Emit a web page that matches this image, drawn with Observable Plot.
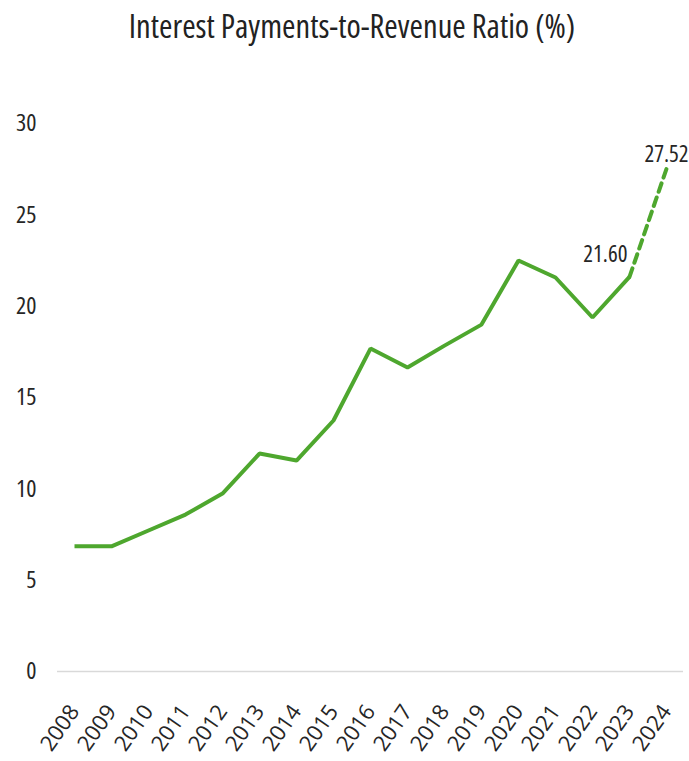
<!DOCTYPE html>
<html>
<head>
<meta charset="utf-8">
<script src="https://cdn.jsdelivr.net/npm/d3@7"></script>
<script src="https://cdn.jsdelivr.net/npm/@observablehq/plot@0.6"></script>
<style>
  body { margin: 0; background: #fff; }
  #title { height: 60px; text-align: center; font-family: "Open Sans", sans-serif; font-stretch: 75%; font-weight: 400; font-size: 32.5px; color: #222; line-height: 50px; padding-top: 1px; padding-left: 15px; box-sizing: border-box; }
  #chart svg { display: block; }
  #chart svg text { font-stretch: 75%; font-weight: 400; }
  #chart svg g[aria-label="x-axis tick label"] text { font-stretch: 90%; }
</style>
</head>
<body>
<div id="title">Interest Payments-to-Revenue Ratio (%)</div>
<div id="chart"></div>
<script>
const years = ["2008","2009","2010","2011","2012","2013","2014","2015","2016","2017","2018","2019","2020","2021","2022","2023","2024"];
const ratios = [6.85, 6.85, 7.72, 8.59, 9.74, 11.93, 11.55, 13.74, 17.68, 16.64, 17.84, 18.99, 22.5, 21.57, 19.38, 21.60, 27.52];
const yTicks = [0, 5, 10, 15, 20, 25, 30];
const labelYears = ["2023", "2024"];

const data = years.map((y, i) => ({year: y, value: ratios[i]}));
const solid = data.filter(d => +d.year <= 2023);
const dashed = data.filter(d => +d.year >= 2023);
const lab23 = data.filter(d => d.year === labelYears[0]);
const lab24 = data.filter(d => d.year === labelYears[1]);

const green = "#4ea72e";
const font = "'Open Sans', sans-serif";

const chart = Plot.plot({
  width: 689,
  height: 701,
  marginLeft: 73,
  marginRight: 23,
  marginTop: 63,
  marginBottom: 90,
  style: {fontFamily: font, fontSize: "24px", color: "#262626", background: "#fff"},
  x: {type: "point", domain: years, padding: 0, label: null},
  y: {domain: [0, 30], label: null},
  marks: [
    Plot.ruleY([0], {stroke: "#d9d9d9", strokeWidth: 1.5, x1: () => years[0], x2: () => years[years.length-1], insetLeft: -17, insetRight: -17}),
    Plot.axisY({ticks: yTicks, tickSize: 0, tickPadding: 37, label: null, fontSize: 24}),
    Plot.axisX({tickSize: 0, tickRotate: -55, tickPadding: 36, label: null, fontSize: 22}),
    Plot.line(solid, {x: "year", y: "value", stroke: green, strokeWidth: 4, strokeLinejoin: "miter", strokeLinecap: "butt"}),
    Plot.line(dashed, {x: "year", y: "value", stroke: green, strokeWidth: 4, strokeDasharray: "9 6"}),
    Plot.text(lab23, {x: "year", y: "value", text: d => d.value.toFixed(2), textAnchor: "end", dx: -2, dy: -22, fontSize: 23, fill: "#262626"}),
    Plot.text(lab24, {x: "year", y: "value", text: d => d.value.toFixed(2), textAnchor: "middle", dx: 0, dy: -14, fontSize: 23, fill: "#262626"})
  ]
});
document.getElementById("chart").appendChild(chart);
</script>
</body>
</html>
